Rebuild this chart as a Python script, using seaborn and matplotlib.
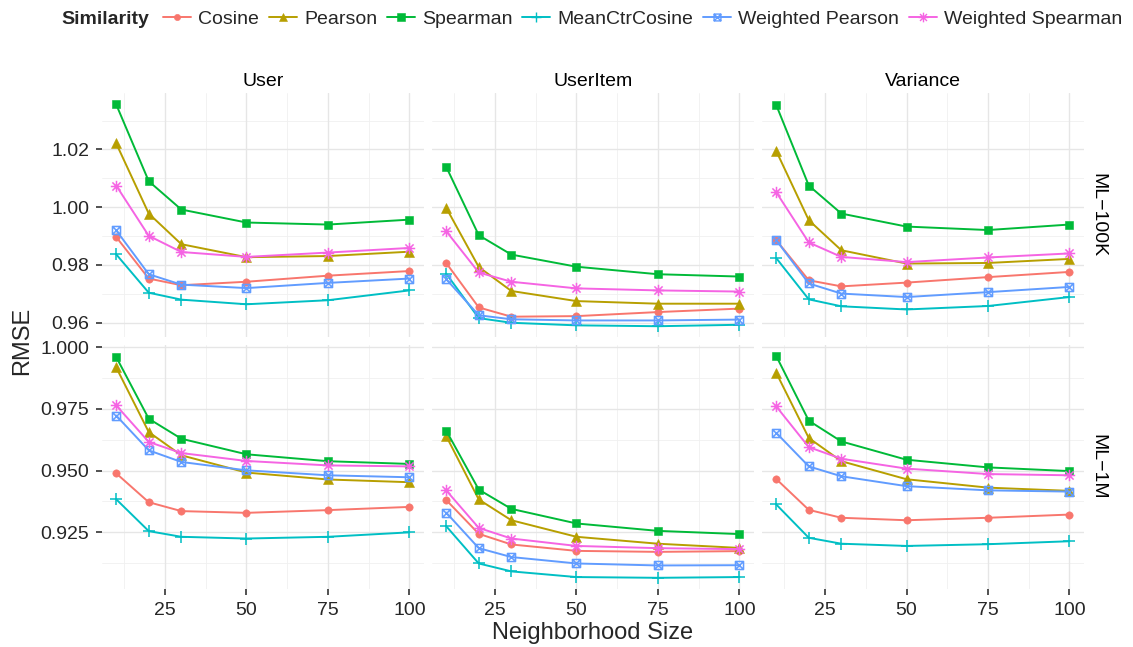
import matplotlib
matplotlib.use("Agg")
import numpy as np
import pandas as pd
import matplotlib.pyplot as plt
import seaborn as sns
from matplotlib.path import Path
from matplotlib.lines import Line2D
from matplotlib.colors import to_hex
from matplotlib.ticker import MultipleLocator, FormatStrFormatter

# neighborhood sizes on the x axis
sizes = [10, 20, 30, 50, 75, 100]
methods = ["Cosine", "Pearson", "Spearman", "MeanCtrCosine",
           "Weighted Pearson", "Weighted Spearman"]
normalizations = ["User", "UserItem", "Variance"]
datasets = ["ML\u2212100K", "ML\u22121M"]

# RMSE values, one dict per panel
user_100k = {
    "Cosine": [0.9897, 0.9753, 0.9730, 0.9742, 0.9763, 0.9779],
    "Pearson": [1.0221, 0.9978, 0.9872, 0.9827, 0.9831, 0.9846],
    "Spearman": [1.0356, 1.0090, 0.9992, 0.9947, 0.9940, 0.9957],
    "MeanCtrCosine": [0.9837, 0.9704, 0.9680, 0.9664, 0.9678, 0.9712],
    "Weighted Pearson": [0.9920, 0.9768, 0.9732, 0.9720, 0.9738, 0.9753],
    "Weighted Spearman": [1.0075, 0.9901, 0.9845, 0.9828, 0.9843, 0.9859],
}
useritem_100k = {
    "Cosine": [0.9807, 0.9653, 0.9621, 0.9623, 0.9637, 0.9649],
    "Pearson": [0.9998, 0.9793, 0.9710, 0.9675, 0.9666, 0.9666],
    "Spearman": [1.0140, 0.9903, 0.9836, 0.9794, 0.9768, 0.9760],
    "MeanCtrCosine": [0.9770, 0.9616, 0.9600, 0.9591, 0.9588, 0.9593],
    "Weighted Pearson": [0.9751, 0.9626, 0.9612, 0.9608, 0.9608, 0.9611],
    "Weighted Spearman": [0.9917, 0.9774, 0.9742, 0.9719, 0.9712, 0.9708],
}
variance_100k = {
    "Cosine": [0.9886, 0.9747, 0.9726, 0.9739, 0.9758, 0.9776],
    "Pearson": [1.0195, 0.9955, 0.9851, 0.9805, 0.9807, 0.9821],
    "Spearman": [1.0354, 1.0075, 0.9978, 0.9933, 0.9921, 0.9940],
    "MeanCtrCosine": [0.9824, 0.9681, 0.9657, 0.9646, 0.9658, 0.9689],
    "Weighted Pearson": [0.9886, 0.9736, 0.9701, 0.9689, 0.9706, 0.9724],
    "Weighted Spearman": [1.0052, 0.9878, 0.9828, 0.9810, 0.9826, 0.9840],
}
user_1m = {
    "Cosine": [0.9489, 0.9372, 0.9336, 0.9329, 0.9340, 0.9353],
    "Pearson": [0.9918, 0.9656, 0.9562, 0.9492, 0.9464, 0.9453],
    "Spearman": [0.9960, 0.9710, 0.9629, 0.9566, 0.9538, 0.9527],
    "MeanCtrCosine": [0.9384, 0.9255, 0.9232, 0.9225, 0.9232, 0.9250],
    "Weighted Pearson": [0.9723, 0.9582, 0.9535, 0.9501, 0.9481, 0.9473],
    "Weighted Spearman": [0.9764, 0.9616, 0.9571, 0.9539, 0.9521, 0.9517],
}
useritem_1m = {
    "Cosine": [0.9381, 0.9244, 0.9201, 0.9175, 0.9171, 0.9174],
    "Pearson": [0.9640, 0.9383, 0.9299, 0.9232, 0.9204, 0.9187],
    "Spearman": [0.9662, 0.9423, 0.9345, 0.9286, 0.9256, 0.9243],
    "MeanCtrCosine": [0.9275, 0.9124, 0.9092, 0.9069, 0.9066, 0.9069],
    "Weighted Pearson": [0.9330, 0.9186, 0.9150, 0.9124, 0.9116, 0.9117],
    "Weighted Spearman": [0.9420, 0.9268, 0.9225, 0.9195, 0.9186, 0.9182],
}
variance_1m = {
    "Cosine": [0.9466, 0.9341, 0.9309, 0.9299, 0.9309, 0.9322],
    "Pearson": [0.9896, 0.9632, 0.9538, 0.9465, 0.9431, 0.9418],
    "Spearman": [0.9964, 0.9702, 0.9618, 0.9544, 0.9513, 0.9498],
    "MeanCtrCosine": [0.9363, 0.9228, 0.9204, 0.9195, 0.9202, 0.9214],
    "Weighted Pearson": [0.9653, 0.9517, 0.9477, 0.9437, 0.9420, 0.9415],
    "Weighted Spearman": [0.9760, 0.9595, 0.9548, 0.9508, 0.9486, 0.9481],
}

panels = {
    (datasets[0], "User"): user_100k,
    (datasets[0], "UserItem"): useritem_100k,
    (datasets[0], "Variance"): variance_100k,
    (datasets[1], "User"): user_1m,
    (datasets[1], "UserItem"): useritem_1m,
    (datasets[1], "Variance"): variance_1m,
}

records = []
for (ds, norm), vals in panels.items():
    for m in methods:
        for s, v in zip(sizes, vals[m]):
            records.append({"dataset": ds, "norm": norm, "method": m,
                            "size": s, "rmse": v})
df = pd.DataFrame(records)

# ggplot default hue colours
palette = ["#F8766D", "#B79F00", "#00BA38", "#00BFC4", "#619CFF", "#F564E3"]
color_of = dict(zip(methods, palette))

# line-art markers like ggplot shapes 3, 7 and 8
M, L, C = Path.MOVETO, Path.LINETO, Path.CLOSEPOLY
plus_path = Path([(0, -1), (0, 1), (-1, 0), (1, 0)], [M, L, M, L])
boxx_path = Path([(-1, -1), (1, -1), (1, 1), (-1, 1), (-1, -1),
                  (-1, -1), (1, 1), (-1, 1), (1, -1)],
                 [M, L, L, L, C, M, L, M, L])
d = 0.72
star_path = Path([(0, -1), (0, 1), (-1, 0), (1, 0),
                  (-d, -d), (d, d), (-d, d), (d, -d)],
                 [M, L, M, L, M, L, M, L])

marker_of = {"Cosine": "o", "Pearson": "^", "Spearman": "s",
             "MeanCtrCosine": plus_path, "Weighted Pearson": boxx_path,
             "Weighted Spearman": star_path}
msize_of = {"Cosine": 5.3, "Pearson": 6.8, "Spearman": 6.0,
            "MeanCtrCosine": 8.2, "Weighted Pearson": 5.8,
            "Weighted Spearman": 8.2}
open_markers = {"MeanCtrCosine", "Weighted Pearson", "Weighted Spearman"}

sns.set_style("white")
plt.rcParams["font.family"] = ["Liberation Sans", "DejaVu Sans"]
plt.rcParams["xtick.bottom"] = True
plt.rcParams["ytick.left"] = True

# no shared axes here: limits are set per row below
fig, axes = plt.subplots(2, 3, figsize=(11.33, 6.47), dpi=100)
fig.subplots_adjust(left=0.0896, right=0.9568, top=0.8558, bottom=0.0898,
                    wspace=0.0233, hspace=0.031)

hex_to_method = {to_hex(c): m for m, c in color_of.items()}

def style_lines(ax):
    for line in ax.lines:
        m = hex_to_method.get(to_hex(line.get_color()))
        if m is None:
            continue
        c = color_of[m]
        line.set_markersize(msize_of[m])
        line.set_markeredgecolor(c)
        if m in open_markers:
            line.set_markerfacecolor("none")
            line.set_markeredgewidth(1.1)
        else:
            line.set_markerfacecolor(c)
            line.set_markeredgewidth(0.4)

def draw_grid(ax):
    # major grid on the tick positions, thin minor grid half way between
    x0, x1 = ax.get_xlim()
    y0, y1 = ax.get_ylim()
    for ticks, lo, hi, line in [(ax.get_xticks(), x0, x1, ax.axvline),
                                (ax.get_yticks(), y0, y1, ax.axhline)]:
        step = ticks[1] - ticks[0]
        for v in ticks:
            if lo < v < hi:
                line(v, color="#E6E6E6", linewidth=1.0, zorder=0.4)
        mids = np.concatenate([ticks - step / 2, [ticks[-1] + step / 2]])
        for v in mids:
            if lo < v < hi:
                line(v, color="#F0F0F0", linewidth=0.6, zorder=0.3)

xs = np.array(sizes, dtype=float)
xpad = (xs.max() - xs.min()) * 0.05

for r, ds in enumerate(datasets):
    row_vals = df.loc[df["dataset"] == ds, "rmse"]
    ypad = (row_vals.max() - row_vals.min()) * 0.05
    for c, norm in enumerate(normalizations):
        ax = axes[r, c]
        sub = df[(df["dataset"] == ds) & (df["norm"] == norm)]
        sns.lineplot(data=sub, x="size", y="rmse", hue="method",
                     style="method", hue_order=methods, style_order=methods,
                     palette=color_of, markers=marker_of, dashes=False,
                     linewidth=1.4, legend=False, ax=ax)
        style_lines(ax)

        ax.set_xlim(xs.min() - xpad, xs.max() + xpad)
        ax.set_ylim(row_vals.min() - ypad, row_vals.max() + ypad)
        ax.xaxis.set_major_locator(MultipleLocator(25))
        if r == 0:
            ax.yaxis.set_major_locator(MultipleLocator(0.02))
            ax.yaxis.set_major_formatter(FormatStrFormatter("%.2f"))
        else:
            ax.yaxis.set_major_locator(MultipleLocator(0.025))
            ax.yaxis.set_major_formatter(FormatStrFormatter("%.3f"))

        for sp in ax.spines.values():
            sp.set_visible(False)
        draw_grid(ax)
        ax.tick_params(axis="y", which="major", length=4.5, width=1.2,
                       color="#333333", pad=4.5, labelsize=14,
                       left=(c == 0), labelleft=(c == 0))
        ax.tick_params(axis="x", which="major", length=4.5, width=1.2,
                       color="#333333", pad=5.0, labelsize=14,
                       bottom=(r == 1), labelbottom=(r == 1))
        ax.set_xlabel("")
        ax.set_ylabel("")

        if r == 0:
            ax.set_title(norm, fontsize=14, pad=5.0, color="black")
        if c == 2:
            ax.annotate(ds, xy=(1, 0.5), xycoords="axes fraction",
                        xytext=(10, 0), textcoords="offset points",
                        rotation=-90, ha="center", va="center",
                        fontsize=14, color="black")

fig.text(592.75 / 1133, 1 - 633 / 647, "Neighborhood Size",
         ha="center", va="center", fontsize=17)
fig.text(22.5 / 1133, 1 - 341 / 647, "RMSE", rotation=90,
         ha="center", va="center", fontsize=17)

# legend across the top, with its title on the left
handles = []
for m in methods:
    col = color_of[m]
    handles.append(Line2D([], [], color=col, lw=1.4, marker=marker_of[m],
                          markersize=msize_of[m] * 0.85,
                          markeredgecolor=col,
                          markerfacecolor="none" if m in open_markers else col,
                          markeredgewidth=1.0 if m in open_markers else 0.4))
fig.text(61.5 / 1133, 1 - 19 / 647, "Similarity", fontweight="bold",
         fontsize=14, ha="left", va="center")
fig.legend(handles, methods, loc="center left",
           bbox_to_anchor=(163 / 1133, 1 - 19 / 647), ncol=6, frameon=False,
           fontsize=14, handlelength=1.45, handletextpad=0.36,
           columnspacing=0.5, borderpad=0, borderaxespad=0)

fig.savefig("out.png", dpi=100)
